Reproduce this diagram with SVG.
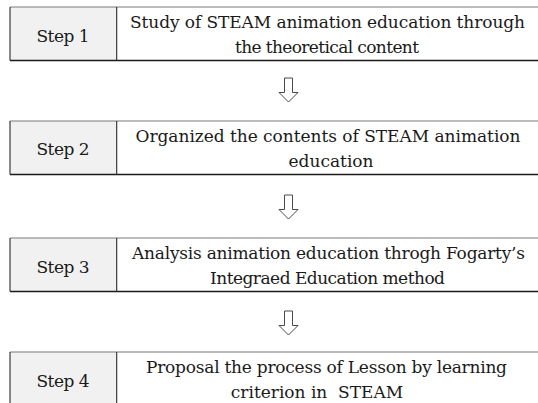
<svg xmlns="http://www.w3.org/2000/svg" width="538" height="403" viewBox="0 0 538 403">
  <style>
    .label { fill: #f1f1f1; }
    .body { fill: #ffffff; }
    .top { stroke: #7a7a7a; stroke-width: 1.2; }
    .bottom { stroke: #1a1a1a; stroke-width: 1.6; }
    .side { stroke: #2a2a2a; stroke-width: 1.1; }
    .arrow { fill: #ffffff; stroke: #4a4a4a; stroke-width: 1; stroke-linejoin: miter; }
  </style>
  <defs>
    <!-- hollow down arrow, tip at origin -->
    <path id="down" class="arrow" d="M -4 -24 H 4 V -9.5 H 9.5 L 0 0 L -9.5 -9.5 H -4 Z"/>
    <!-- one step row: grey label cell and white text cell, running off the right edge -->
    <g id="row">
      <rect class="label" x="10" y="0" width="106.7" height="53.5"/>
      <rect class="body" x="116.7" y="0" width="430" height="53.5"/>
      <line class="top" x1="10" y1="0" x2="540" y2="0"/>
      <line class="bottom" x1="10" y1="53.5" x2="540" y2="53.5"/>
      <line class="side" x1="10" y1="0" x2="10" y2="53.5"/>
      <line class="side" x1="116.7" y1="0" x2="116.7" y2="53.5"/>
    </g>
  </defs>

  <g id="connectors">
    <use href="#down" x="288.5" y="102"/>
    <use href="#down" x="288.5" y="219"/>
    <use href="#down" x="288.5" y="335"/>
  </g>

  <g id="steps" font-family="DejaVu Serif, Liberation Serif, serif" font-size="17" fill="#1a1a1a" text-anchor="middle">
    <g id="step1">
      <use href="#row" x="0" y="7"/>
      <text x="63" y="42" textLength="53" lengthAdjust="spacing">Step 1</text>
      <text x="327.5" y="28" textLength="395" lengthAdjust="spacing">Study of STEAM animation education through</text>
      <text x="327" y="53" textLength="184" lengthAdjust="spacing">the theoretical content</text>
    </g>

    <g id="step2">
      <use href="#row" x="0" y="121"/>
      <text x="63" y="155" textLength="53" lengthAdjust="spacing">Step 2</text>
      <text x="328" y="142" textLength="385" lengthAdjust="spacing">Organized the contents of STEAM animation</text>
      <text x="331" y="167">education</text>
    </g>

    <g id="step3">
      <use href="#row" x="0" y="238"/>
      <text x="63" y="273" textLength="53" lengthAdjust="spacing">Step 3</text>
      <text x="328.5" y="259" textLength="393" lengthAdjust="spacing">Analysis animation education throgh Fogarty’s</text>
      <text x="327.5" y="284" textLength="235" lengthAdjust="spacing">Integraed Education method</text>
    </g>

    <g id="step4">
      <use href="#row" x="0" y="352"/>
      <text x="63" y="387" textLength="53" lengthAdjust="spacing">Step 4</text>
      <text x="326.5" y="373" textLength="361" lengthAdjust="spacing">Proposal the process of Lesson by learning</text>
      <text x="317" y="398" xml:space="preserve">criterion in  STEAM</text>
    </g>
  </g>
</svg>
